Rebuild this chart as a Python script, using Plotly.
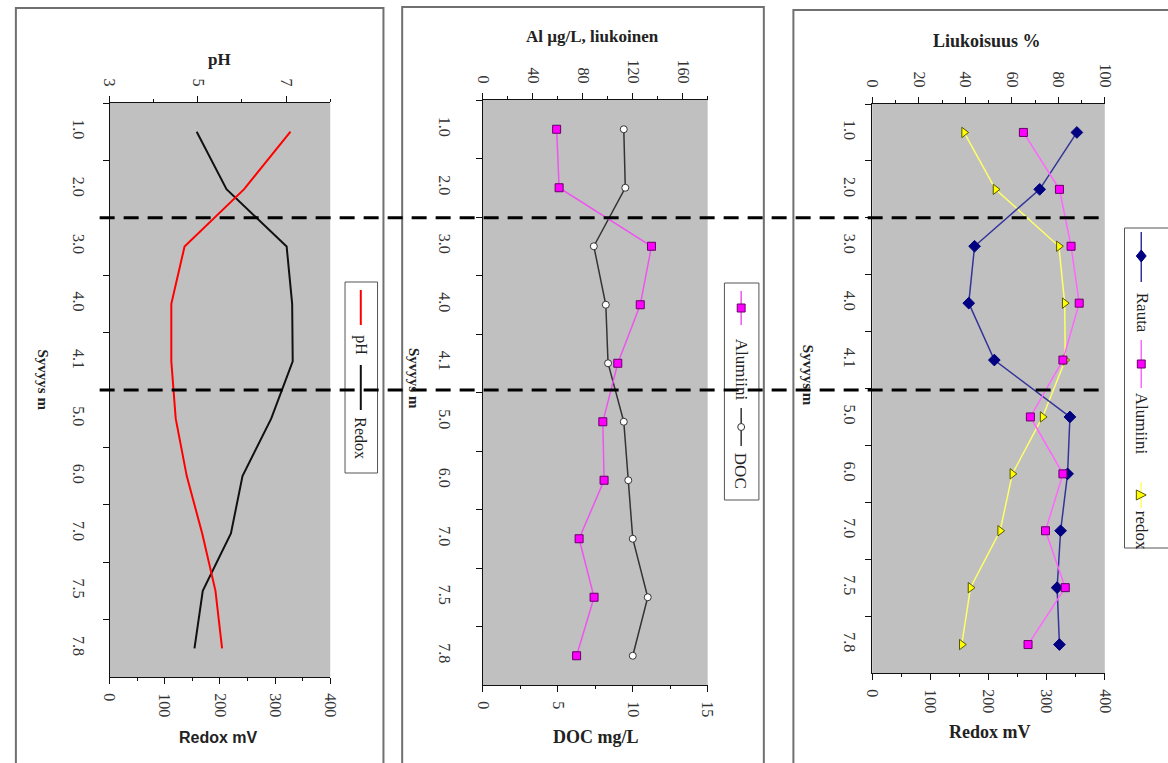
import plotly.graph_objects as go

# ---------------- data ----------------
depths = ["1.0", "2.0", "3.0", "4.0", "4.1", "5.0", "6.0", "7.0", "7.5", "7.8"]
ph = [7.1, 6.05, 4.7, 4.4, 4.4, 4.5, 4.75, 5.1, 5.4, 5.55]
redox_mv = [158, 212, 321, 331, 332, 293, 241, 220, 169, 154]
al_ugl = [59, 61, 135, 126, 108, 96, 97, 77, 89, 75]
doc_mgl = [9.4, 9.5, 7.4, 8.2, 8.35, 9.4, 9.7, 10.0, 11.0, 10.0]
rauta_pct = [88, 72, 44, 41.5, 52.5, 85, 84, 81, 79.5, 80.5]
alumiini_pct = [65, 80.5, 85.5, 89, 82, 68, 82, 74.5, 83, 67]

W, H = 1168, 763


def px(x):
    return x / W


def py(y):
    return 1 - y / H


SERIF = "Liberation Serif, Times New Roman, serif"
SANS = "Liberation Sans, Arial, sans-serif"
TICKFONT = dict(family=SERIF, size=16, color="#333333")

fig = go.Figure()

# ---------------- traces ----------------
# Panel 1
fig.add_trace(go.Scatter(x=ph, y=depths, xaxis="x2", yaxis="y", mode="lines",
                         line=dict(color="#FF0000", width=2), name="pH"))
fig.add_trace(go.Scatter(x=redox_mv, y=depths, xaxis="x", yaxis="y", mode="lines",
                         line=dict(color="#111111", width=2), name="Redox"))
# Panel 2
fig.add_trace(go.Scatter(x=al_ugl, y=depths, xaxis="x4", yaxis="y2", mode="lines+markers",
                         line=dict(color="#EE55EE", width=1.5),
                         marker=dict(symbol="square", size=8, color="#FF00FF",
                                     line=dict(color="#660066", width=1)),
                         name="Alumiini"))
fig.add_trace(go.Scatter(x=doc_mgl, y=depths, xaxis="x3", yaxis="y2", mode="lines+markers",
                         line=dict(color="#333333", width=1.5),
                         marker=dict(symbol="circle", size=7, color="#FFFFFF",
                                     line=dict(color="#333333", width=1)),
                         name="DOC"))
# Panel 3
fig.add_trace(go.Scatter(x=rauta_pct, y=depths, xaxis="x6", yaxis="y3", mode="lines+markers",
                         line=dict(color="#333399", width=1.5),
                         marker=dict(symbol="diamond", size=9, color="#000080",
                                     line=dict(color="#000080", width=1)),
                         name="Rauta"))
fig.add_trace(go.Scatter(x=alumiini_pct, y=depths, xaxis="x6", yaxis="y3", mode="lines+markers",
                         line=dict(color="#FF66FF", width=1.5),
                         marker=dict(symbol="square", size=8, color="#FF00FF",
                                     line=dict(color="#660066", width=1)),
                         name="Alumiini"))
fig.add_trace(go.Scatter(x=redox_mv, y=depths, xaxis="x5", yaxis="y3", mode="lines+markers",
                         line=dict(color="#FFFF66", width=1.5),
                         marker=dict(symbol="triangle-right", size=9, color="#FFFF00",
                                     line=dict(color="#555500", width=1)),
                         name="redox"))

# ---------------- axes ----------------
panels = [
    dict(x=(103, 327), y=(103, 677), xb="xaxis", xt="xaxis2", ya="yaxis", xbref="x", ybref="y",
         brange=[0, 400], bd=100, bm=50, trange=[3, 8], td=2, tt0=3, tm=1, ys=16),
    dict(x=(482, 710), y=(100, 685), xb="xaxis3", xt="xaxis4", ya="yaxis2", xbref="x3", ybref="y2",
         brange=[0, 15], bd=5, bm=2.5, trange=[0, 180], td=40, tt0=0, tm=20, ys=24),
    dict(x=(877, 1113), y=(104, 673), xb="xaxis5", xt="xaxis6", ya="yaxis3", xbref="x5", ybref="y3",
         brange=[0, 400], bd=100, bm=50, trange=[0, 100], td=20, tt0=0, tm=10, ys=8),
]

layout_axes = {}
for p in panels:
    xd = [px(p["x"][0]), px(p["x"][1])]
    yd = [py(p["y"][1]), py(p["y"][0])]
    common = dict(domain=xd, showgrid=False, zeroline=False, showline=True,
                  linecolor="#111111", linewidth=1, ticks="outside", ticklen=6,
                  tickcolor="#111111", tickangle=90, tickfont=TICKFONT,
                  fixedrange=True)
    layout_axes[p["xb"]] = dict(common, range=p["brange"], dtick=p["bd"], tick0=0,
                                anchor=p["ybref"], side="bottom", ticklabelstandoff=6,
                                minor=dict(dtick=p["bm"], ticks="outside", ticklen=3,
                                           tickcolor="#111111"))
    layout_axes[p["xt"]] = dict(common, range=p["trange"], dtick=p["td"], tick0=p["tt0"],
                                anchor=p["ybref"], side="top", overlaying=p["xbref"],
                                ticklabelstandoff=4,
                                minor=dict(dtick=p["tm"], tick0=p["tt0"], ticks="outside",
                                           ticklen=3, tickcolor="#111111"))
    layout_axes[p["ya"]] = dict(domain=yd, type="category", categoryorder="array",
                                categoryarray=depths, range=[9.5, -0.5],
                                anchor=p["xbref"], showgrid=False, zeroline=False,
                                showline=True, linecolor="#111111", linewidth=1,
                                ticks="outside", ticklen=6, tickcolor="#111111",
                                tickson="boundaries", tickangle=90, tickfont=TICKFONT,
                                ticklabelstandoff=p["ys"], fixedrange=True)

# ---------------- shapes ----------------
shapes = []
for (x0, y0, x1, y1) in [(8, 8, 381, 790), (400, 7, 767, 790), (797, 10, 1190, 790)]:
    shapes.append(dict(type="rect", xref="paper", yref="paper", x0=px(x0), x1=px(x1),
                       y0=py(y1), y1=py(y0), line=dict(color="#707070", width=2),
                       fillcolor="rgba(0,0,0,0)", layer="below"))
for (x0, y0, x1, y1) in [(342, 282, 375, 473), (727, 283, 762, 500), (1133, 228, 1190, 548)]:
    shapes.append(dict(type="rect", xref="paper", yref="paper", x0=px(x0), x1=px(x1),
                       y0=py(y1), y1=py(y0), line=dict(color="#555555", width=1),
                       fillcolor="#FFFFFF", layer="above"))


def vline(x, y0, y1, color, width=2):
    shapes.append(dict(type="line", xref="paper", yref="paper", x0=px(x), x1=px(x),
                       y0=py(y0), y1=py(y1), line=dict(color=color, width=width),
                       layer="above"))


def sq(x, y, r, fill, border):
    shapes.append(dict(type="rect", xref="paper", yref="paper", x0=px(x - r), x1=px(x + r),
                       y0=py(y + r), y1=py(y - r), line=dict(color=border, width=1),
                       fillcolor=fill, layer="above"))


def circ(x, y, r, fill, border):
    shapes.append(dict(type="circle", xref="paper", yref="paper", x0=px(x - r), x1=px(x + r),
                       y0=py(y + r), y1=py(y - r), line=dict(color=border, width=1),
                       fillcolor=fill, layer="above"))


def poly(pts, fill, border):
    d = "M " + " L ".join(f"{px(a):.5f},{py(b):.5f}" for a, b in pts) + " Z"
    shapes.append(dict(type="path", xref="paper", yref="paper", path=d,
                       line=dict(color=border, width=1), fillcolor=fill, layer="above"))


vline(358, 290, 325, "#FF0000")
vline(358, 365, 410, "#111111")
vline(744, 291, 325, "#EE55EE", 1.5)
sq(744, 308, 4, "#FF00FF", "#660066")
vline(744, 408, 446, "#333333", 1.5)
circ(744, 427, 3.5, "#FFFFFF", "#333333")
vline(1150, 232, 282, "#333399", 1.5)
poly([(1150, 250), (1155, 256), (1150, 262), (1145, 256)], "#000080", "#000080")
vline(1150, 340, 388, "#FF66FF", 1.5)
sq(1150, 364, 4, "#FF00FF", "#660066")
vline(1150, 482, 508, "#FFFF66", 1.5)
poly([(1145, 490), (1155, 495), (1145, 500)], "#FFFF00", "#555500")

for yb in [1.5, 4.5]:
    shapes.append(dict(type="line", xref="paper", yref="y", x0=px(93), x1=px(1115),
                       y0=yb, y1=yb, line=dict(color="#000000", width=3, dash="15px,9px"),
                       layer="above"))

# ---------------- annotations ----------------
ann = []


def text(x, y, s, size, family=SERIF, bold=True, angle=0, color="#222222"):
    ann.append(dict(x=px(x), y=py(y), xref="paper", yref="paper", showarrow=False,
                    text=f"<b>{s}</b>" if bold else s, textangle=angle,
                    xanchor="center", yanchor="middle",
                    font=dict(family=family, size=size, color=color)))


text(215, 60, "pH", 17)
text(214, 737, "Redox mV", 16, family=SANS)
text(36, 380, "Syvyys m", 15, angle=90)
text(593, 37, "Al µg/L, liukoinen", 17)
text(597, 737, "DOC mg/L", 18)
text(412, 378, "Syvyys m", 15, angle=90)
text(993, 41, "Liukoisuus %", 18)
text(997, 732, "Redox mV", 18)
text(812, 375, "Syvyys m", 15, angle=90)

text(358, 345, "pH", 16, bold=False, angle=90)
text(358, 438, "Redox", 16, bold=False, angle=90)
text(744, 370, "Alumiini", 17, bold=False, angle=90)
text(744, 471, "DOC", 17, bold=False, angle=90)
text(1151, 313, "Rauta", 17, bold=False, angle=90)
text(1151, 424, "Alumiini", 17, bold=False, angle=90)
text(1151, 530, "redox", 17, bold=False, angle=90)

fig.update_layout(
    width=W, height=H, autosize=False,
    margin=dict(l=0, r=0, t=0, b=0),
    paper_bgcolor="#FFFFFF", plot_bgcolor="#C0C0C0",
    showlegend=False,
    shapes=shapes, annotations=ann,
    **layout_axes,
)

fig.write_html("out.html", config={"displayModeBar": False},
               post_script="document.body.style.margin='0px';")
